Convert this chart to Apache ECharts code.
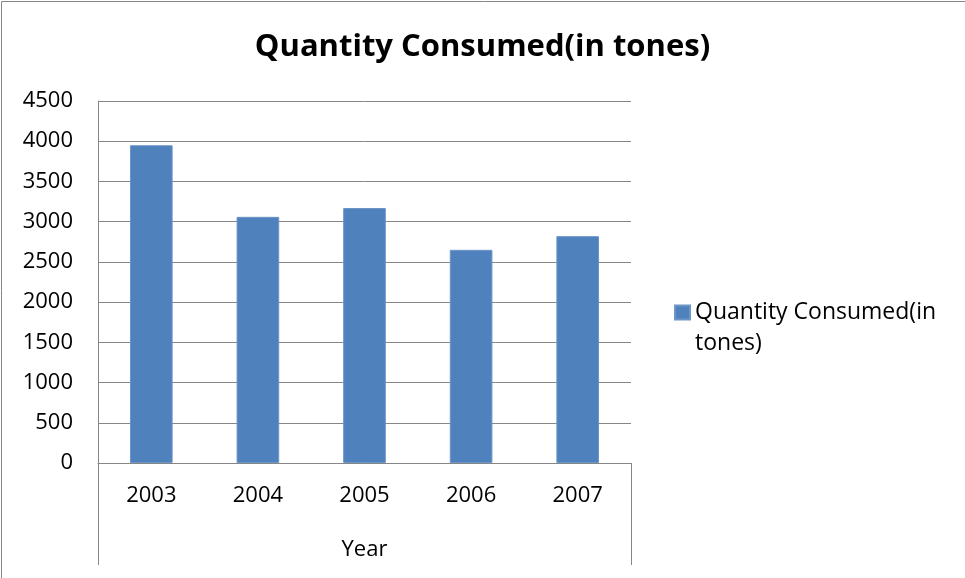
<!DOCTYPE html>
<html>
<head>
<meta charset="utf-8">
<script src="https://cdn.jsdelivr.net/npm/echarts@6/dist/echarts.min.js"></script>
<style>html,body{margin:0;padding:0;background:#fff}#c{width:965px;height:578px}</style>
</head>
<body>
<div id="c"></div>
<script>
const categories = ['2003', '2004', '2005', '2006', '2007'];
const quantityConsumed = [3950, 3060, 3170, 2650, 2820];
const seriesName = 'Quantity Consumed(in tones)';
const titleText = 'Quantity Consumed(in tones)';
const xAxisName = 'Year';

const FONT = 'Open Sans';
const chart = echarts.init(document.getElementById('c'), null, {renderer: 'canvas'});
const option = {
  animation: false,
  backgroundColor: '#fff',
  title: {
    text: titleText,
    left: 'center',
    top: 27,
    textStyle: {fontFamily: FONT, fontSize: 31, fontWeight: 'bold', color: '#000'}
  },
  legend: {
    orient: 'vertical',
    left: 669,
    top: 261,
    itemWidth: 15,
    itemHeight: 14,
    icon: 'rect',
    formatter: () => '\nQuantity Consumed(in\ntones)',
    textStyle: {fontFamily: FONT, fontSize: 23, color: '#000', lineHeight: 31}
  },
  grid: {left: 98, right: 334, top: 101, bottom: 115, containLabel: false},
  xAxis: {
    type: 'category',
    data: categories,
    name: xAxisName,
    nameLocation: 'middle',
    nameGap: 76,
    nameTextStyle: {fontFamily: FONT, fontSize: 22, color: '#000'},
    axisLine: {show: true, lineStyle: {color: '#868686', width: 1}},
    axisTick: {show: false},
    axisLabel: {fontFamily: FONT, fontSize: 22, color: '#000', margin: 22}
  },
  yAxis: {
    type: 'value',
    min: 0,
    max: 4500,
    interval: 500,
    axisLine: {show: true, lineStyle: {color: '#868686', width: 1}},
    axisTick: {show: false},
    splitLine: {show: true, lineStyle: {color: '#868686', width: 1}},
    axisLabel: {fontFamily: FONT, fontSize: 22, color: '#000', margin: 25, formatter: v => String(v)}
  },
  series: [{
    name: seriesName,
    type: 'bar',
    data: quantityConsumed,
    barWidth: '40%',
    itemStyle: {color: '#4F81BD', borderColor: '#6C95C8', borderWidth: 1}
  }]
};
chart.setOption(option);

// decorative lines: chart border and category-axis boundary extensions
const [x0, y0] = chart.convertToPixel({xAxisIndex: 0, yAxisIndex: 0}, [0, 0]);
const band = chart.getModel().getComponent('xAxis', 0).axis.getBandWidth();
const leftX = Math.round(x0 - band / 2) + 0.5;
const rightX = Math.round(x0 - band / 2 + band * categories.length) + 0.5;
chart.setOption({
  graphic: [
    {type: 'line', shape: {x1: leftX, y1: y0, x2: leftX, y2: y0 + 102}, style: {stroke: '#868686', lineWidth: 1}},
    {type: 'line', shape: {x1: rightX, y1: y0, x2: rightX, y2: y0 + 102}, style: {stroke: '#868686', lineWidth: 1}},
    {type: 'rect', shape: {x: 1.5, y: 1.5, width: 1000, height: 1000}, style: {fill: 'none', stroke: '#868686', lineWidth: 1}}
  ]
});
</script>
</body>
</html>
